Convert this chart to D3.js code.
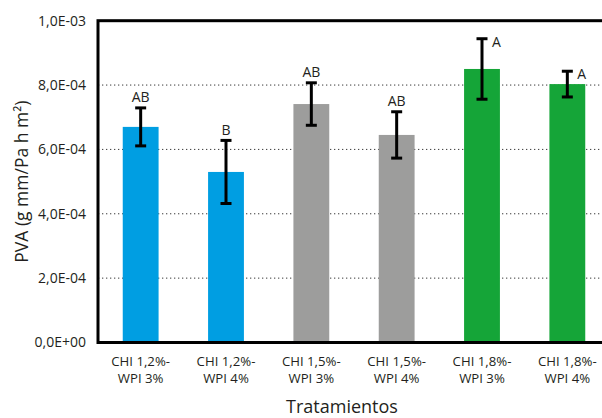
<!DOCTYPE html>
<html>
<head>
<meta charset="utf-8">
<script src="https://cdn.jsdelivr.net/npm/d3@7"></script>
<style>
  html, body { margin: 0; padding: 0; background: #fff; }
  svg { display: block; font-family: "Open Sans", sans-serif; }
</style>
</head>
<body>
<div id="chart"></div>
<script>
// ---- data ----
const categories = [
  ["CHI 1,2%-", "WPI 3%"],
  ["CHI 1,2%-", "WPI 4%"],
  ["CHI 1,5%-", "WPI 3%"],
  ["CHI 1,5%-", "WPI 4%"],
  ["CHI 1,8%-", "WPI 3%"],
  ["CHI 1,8%-", "WPI 4%"]
];
const means  = [6.70e-4, 5.30e-4, 7.41e-4, 6.45e-4, 8.50e-4, 8.03e-4];
const errors = [0.59e-4, 0.98e-4, 0.66e-4, 0.72e-4, 0.94e-4, 0.40e-4];
const letters = ["AB", "B", "AB", "AB", "A", "A"];
const groups = ["blue", "blue", "gray", "gray", "green", "green"];
const yTickValues = [0, 2e-4, 4e-4, 6e-4, 8e-4, 1e-3];
const yTickLabels = ["0,0E+00", "2,0E-04", "4,0E-04", "6,0E-04", "8,0E-04", "1,0E-03"];
const yTitle = "PVA (g mm/Pa h m²)";
const xTitle = "Tratamientos";

// ---- styles ----
const colors = { blue: "#009ee2", gray: "#9d9d9c", green: "#15a538" };
const textColor = "#231f20";
const W = 602, H = 418;
const plotL = 98, plotR = 610, plotT = 20.7, plotB = 342.5;

const svg = d3.select("#chart").append("svg")
  .attr("width", W).attr("height", H);

const keys = categories.map((c, i) => i);
const x = d3.scaleBand().domain(keys).range([plotL, plotR])
  .paddingInner(0.58).paddingOuter(0.29);
const y = d3.scaleLinear().domain([0, 1e-3]).range([plotB, plotT]);

// gridlines (dotted)
svg.append("g").selectAll("line")
  .data(yTickValues.filter(v => v > 0 && v < 1e-3))
  .join("line")
  .attr("x1", plotL).attr("x2", plotR)
  .attr("y1", d => y(d)).attr("y2", d => y(d))
  .attr("stroke", "#3a3a3a").attr("stroke-width", 1)
  .attr("stroke-dasharray", "1.3,2.7");

// y axis via d3
const yAxis = d3.axisLeft(y).tickValues(yTickValues)
  .tickFormat((d, i) => yTickLabels[i]).tickSize(0).tickPadding(12);
const gy = svg.append("g").attr("transform", `translate(${plotL},0)`).call(yAxis);
gy.select(".domain").remove();
gy.selectAll("text").attr("font-size", 14).attr("fill", textColor)
  .attr("font-family", "'Open Sans', sans-serif");

// bars
svg.append("g").selectAll("rect")
  .data(means)
  .join("rect")
  .attr("x", (d, i) => x(i))
  .attr("width", x.bandwidth())
  .attr("y", d => y(d))
  .attr("height", d => y(0) - y(d))
  .attr("fill", (d, i) => colors[groups[i]]);

// error bars
const capW = 11;
const eg = svg.append("g").attr("stroke", "#000").attr("stroke-width", 3);
means.forEach((m, i) => {
  const cx = x(i) + x.bandwidth() / 2;
  const y1 = y(m + errors[i]), y2 = y(m - errors[i]);
  eg.append("line").attr("x1", cx).attr("x2", cx).attr("y1", y1).attr("y2", y2);
  eg.append("line").attr("x1", cx - capW / 2).attr("x2", cx + capW / 2).attr("y1", y1).attr("y2", y1);
  eg.append("line").attr("x1", cx - capW / 2).attr("x2", cx + capW / 2).attr("y1", y2).attr("y2", y2);
});

// significance letters
svg.append("g").selectAll("text")
  .data(letters)
  .join("text")
  .attr("x", (d, i) => x(i) + x.bandwidth() / 2 + (d === "A" ? 10 : 0))
  .attr("y", (d, i) => y(means[i] + errors[i]) + (d === "A" ? 8 : -5.5))
  .attr("text-anchor", d => d === "A" ? "start" : "middle")
  .attr("font-size", 14).attr("fill", textColor)
  .text(d => d);

// frame
svg.append("rect")
  .attr("x", plotL).attr("y", plotT)
  .attr("width", plotR - plotL).attr("height", plotB - plotT)
  .attr("fill", "none").attr("stroke", "#000").attr("stroke-width", 3);

// x labels
const xg = svg.append("g").attr("fill", textColor).attr("font-size", 13.2)
  .attr("text-anchor", "middle");
categories.forEach((c, i) => {
  const cx = x(i) + x.bandwidth() / 2;
  xg.append("text").attr("x", cx).attr("y", 366).text(c[0]);
  xg.append("text").attr("x", cx).attr("y", 383).text(c[1]);
});

// axis titles
svg.append("text")
  .attr("x", 342).attr("y", 413)
  .attr("text-anchor", "middle")
  .attr("font-size", 18).attr("fill", textColor)
  .text(xTitle);

svg.append("text")
  .attr("transform", `translate(28,${(plotT + plotB) / 2}) rotate(-90)`)
  .attr("text-anchor", "middle")
  .attr("font-size", 17.5).attr("fill", textColor)
  .text(yTitle);
</script>
</body>
</html>
